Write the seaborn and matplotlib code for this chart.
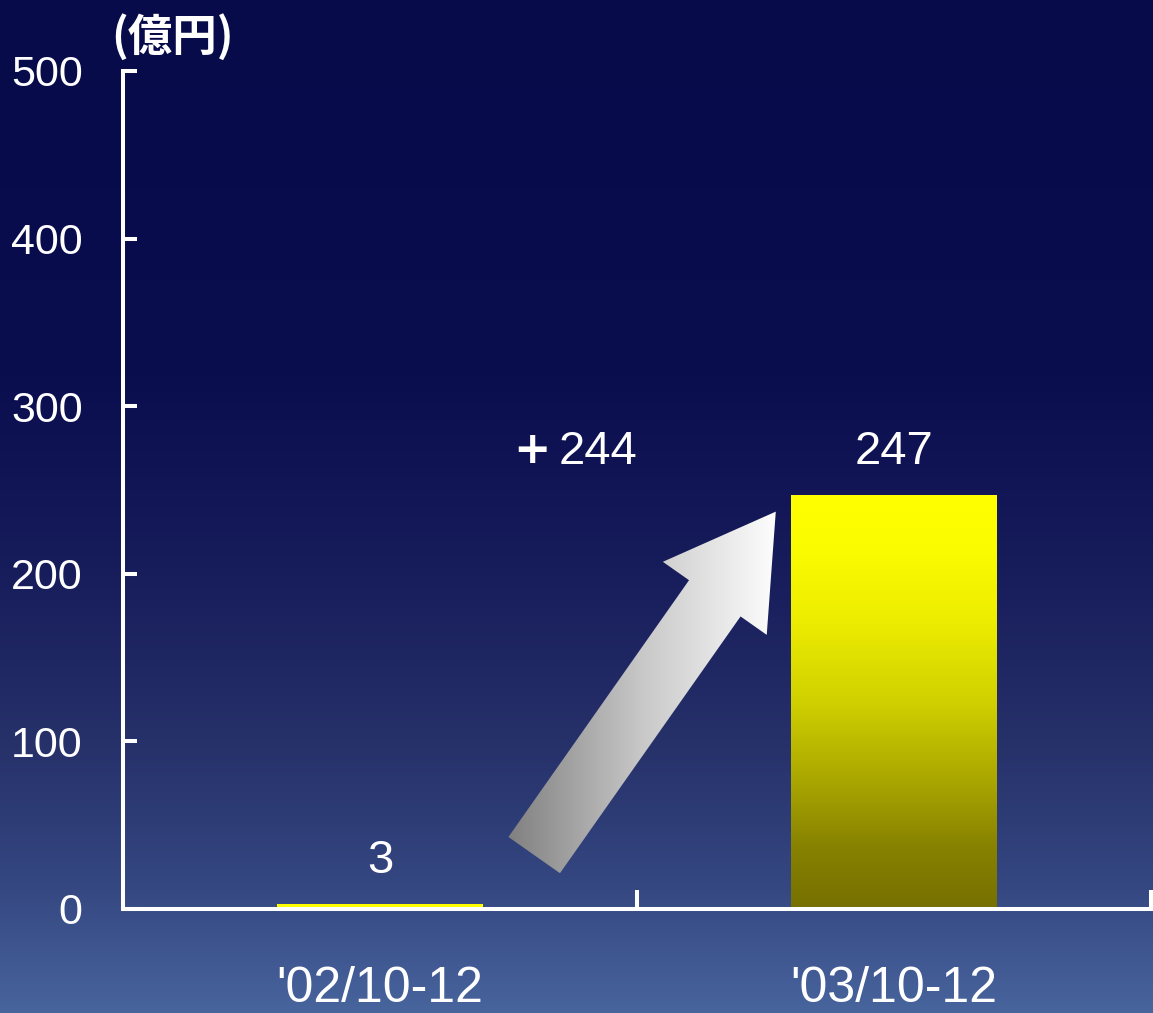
import matplotlib

matplotlib.use("Agg")
import matplotlib.pyplot as plt
import numpy as np
import pandas as pd
import seaborn as sns
from matplotlib import font_manager
from matplotlib.colors import LinearSegmentedColormap
from matplotlib.patches import Polygon

# data
PERIODS = ["'02/10-12", "'03/10-12"]
SALES = [3, 247]  # 億円
Y_TICKS = [0, 100, 200, 300, 400, 500]
UNIT_LABEL = "(億円)"

W, H, DPI = 1153, 1013, 100
CJK = ["Noto Sans CJK JP", "DejaVu Sans"]

# the original uses a very condensed face; take a narrow one if it is there
installed = {f.name for f in font_manager.fontManager.ttflist}
HAS_NARROW = "Liberation Sans Narrow" in installed
NARROW = ["Liberation Sans Narrow" if HAS_NARROW else "Liberation Sans", "DejaVu Sans"]
YTICK_SIZE = 38 if HAS_NARROW else 31
XTICK_SIZE = 40 if HAS_NARROW else 36
VALUE_SIZE = 38 if HAS_NARROW else 34


def rgb(*c):
    return tuple(v / 255 for v in c)


# colour ramps, listed bottom -> top
BG_CMAP = LinearSegmentedColormap.from_list(
    "bg",
    [
        (0.0, rgb(72, 100, 157)),
        (0.13, rgb(52, 70, 128)),
        (0.27, rgb(38, 48, 105)),
        (0.45, rgb(22, 27, 90)),
        (0.63, rgb(10, 13, 78)),
        (1.0, rgb(8, 11, 74)),
    ],
)
BAR_CMAP = LinearSegmentedColormap.from_list(
    "bar",
    [
        (0.0, rgb(118, 112, 0)),
        (0.15, rgb(135, 130, 0)),
        (0.3, rgb(168, 164, 0)),
        (0.5, rgb(208, 208, 0)),
        (0.7, rgb(237, 237, 0)),
        (0.88, rgb(252, 252, 0)),
        (1.0, rgb(255, 255, 0)),
    ],
)
ARROW_CMAP = LinearSegmentedColormap.from_list(
    "arrow", [rgb(128, 128, 128), rgb(200, 200, 200), rgb(253, 253, 253)]
)

sns.set_style("white")
plt.rcParams["font.family"] = NARROW

fig = plt.figure(figsize=(W / DPI, H / DPI), dpi=DPI)

# background gradient
bg = fig.add_axes([0, 0, 1, 1], zorder=-10)
bg.imshow(
    np.linspace(0, 1, 256).reshape(-1, 1),
    cmap=BG_CMAP,
    aspect="auto",
    origin="lower",
    extent=[0, 1, 0, 1],
)
bg.set_axis_off()

ax = fig.add_axes([123 / W, 1 - 908.7 / H, 1028 / W, 837.7 / H])
ax.patch.set_visible(False)

df = pd.DataFrame({"period": PERIODS, "sales": SALES})
sns.barplot(
    data=df, x="period", y="sales", width=0.4, color="#ffff00",
    saturation=1, linewidth=0, ax=ax, zorder=2,
)
bars = list(ax.patches)
ax.set_xlim(-0.5, 1.5)
ax.set_ylim(0, 500)

# vertical gradient inside the tall bars
grad = np.linspace(0, 1, 256).reshape(-1, 1)
for bar in bars:
    h = bar.get_height()
    if h < 20:
        continue
    x0, w = bar.get_x(), bar.get_width()
    im = ax.imshow(grad, cmap=BAR_CMAP, origin="lower", aspect="auto",
                   extent=[x0, x0 + w, 0, h], zorder=2)
    im.set_clip_path(bar)
    bar.set_facecolor("none")
ax.set_xlim(-0.5, 1.5)
ax.set_ylim(0, 500)

# value labels
for bar, v in zip(bars, SALES):
    ax.annotate(f"{v}", (bar.get_x() + bar.get_width() / 2, v), xytext=(0, 31),
                textcoords="offset points", ha="center", va="center",
                color="white", fontsize=VALUE_SIZE)

# increase label
diff = SALES[1] - SALES[0]
ax.annotate(f"{diff}", (0.5, SALES[1]), xytext=(0, 31), textcoords="offset points",
            ha="right", va="center", color="white", fontsize=VALUE_SIZE)
ax.annotate("+", (0.5, SALES[1]), xytext=(-76, 32), textcoords="offset points",
            ha="center", va="center", color="white", fontsize=32, fontweight="bold",
            family=["DejaVu Sans"])

# block arrow with a horizontal grey->white gradient
tail = ax.transData.transform((0.30, 32))
tip = ax.transData.transform((0.77, 237))
u = (tip - tail) / np.hypot(*(tip - tail))
n = np.array([-u[1], u[0]])
shaft, head_w, head_len = 31.5, 63.5, 106
neck = tip - u * head_len
verts_px = np.array([
    tail + n * shaft, neck + n * shaft, neck + n * head_w, tip,
    neck - n * head_w, neck - n * shaft, tail - n * shaft,
])
verts = ax.transData.inverted().transform(verts_px)
arrow = Polygon(verts, closed=True, facecolor="none", edgecolor="none", zorder=3)
ax.add_patch(arrow)
xmin, ymin = verts.min(axis=0)
xmax, ymax = verts.max(axis=0)
aim = ax.imshow(np.linspace(0, 1, 256).reshape(1, -1), cmap=ARROW_CMAP, aspect="auto",
                extent=[xmin, xmax, ymin, ymax], zorder=3)
aim.set_clip_path(arrow)
ax.set_xlim(-0.5, 1.5)
ax.set_ylim(0, 500)

# axes styling
for side in ["top", "right"]:
    ax.spines[side].set_visible(False)
for side in ["left", "bottom"]:
    ax.spines[side].set_color("white")
    ax.spines[side].set_linewidth(2.9)
    ax.spines[side].set_zorder(4)

ax.set_yticks(Y_TICKS)
ax.tick_params(axis="y", direction="in", length=10, width=2.9, colors="white",
               labelsize=YTICK_SIZE, pad=29, left=True)
ax.set_xticks(range(len(PERIODS)), PERIODS)
ax.tick_params(axis="x", which="major", length=0, colors="white",
               labelsize=XTICK_SIZE, pad=41)
ax.set_xticks([0.5, 1.5], minor=True)
ax.tick_params(axis="x", which="minor", direction="in", length=14, width=2.9,
               color="white", bottom=True)
ax.set_xlabel("")
ax.set_ylabel("")

fig.text(172 / W, 1 - 37 / H, UNIT_LABEL, ha="center", va="center", color="white",
         fontsize=32, fontweight="bold", family=CJK)

fig.savefig("out.png", dpi=DPI)
